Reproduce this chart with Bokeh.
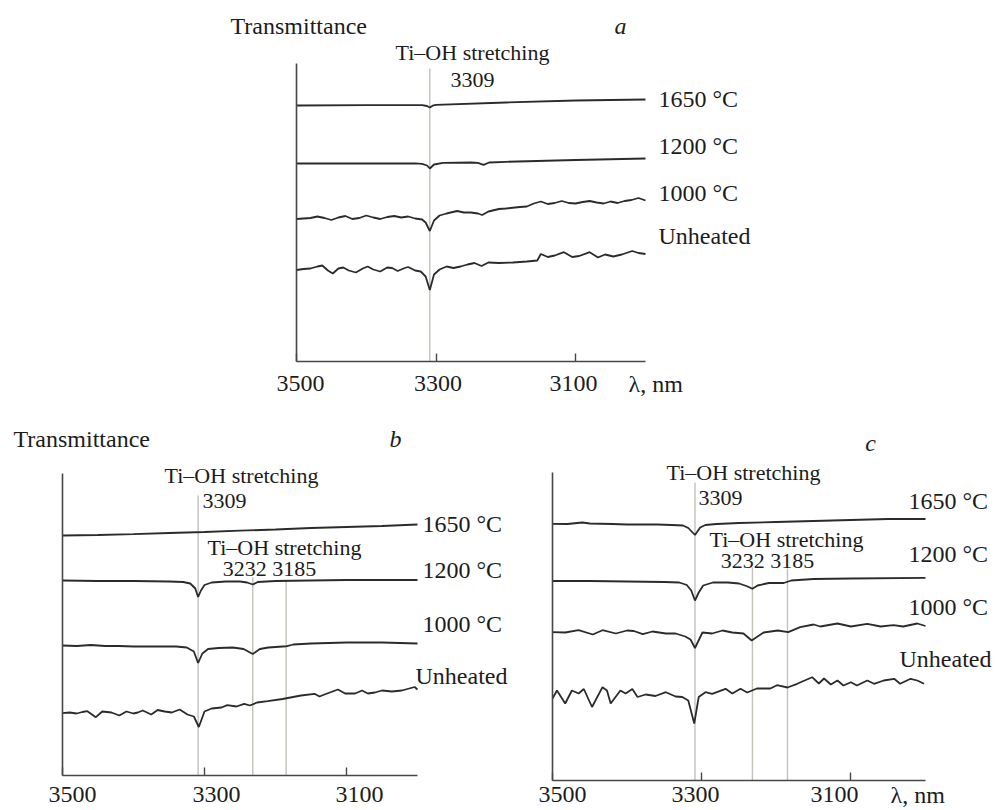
from bokeh.plotting import figure
from bokeh.layouts import column, row
from bokeh.models import Range1d, FixedTicker, Label, Spacer
from bokeh.embed import file_html
from bokeh.resources import INLINE

# ---------------- data (wavelength, relative transmittance, arb. units) ----------------
x_ticks = [3500, 3300, 3100]
peaks_a = [3309]
peaks_bc = [3309, 3232, 3185]
series_labels = ["1650 °C", "1200 °C", "1000 °C", "Unheated"]

# panel a
a_1650_wl = [3500, 3400, 3320, 3313, 3309, 3305, 3300, 3200, 3100, 3000]
a_1650_t = [256, 256.3, 256.3, 255.5, 254, 255.8, 256.6, 259, 261, 262]

a_1200_wl = [3500, 3400, 3330, 3320, 3313, 3309, 3303, 3290, 3250, 3240, 3232, 3224, 3200, 3100, 3000]
a_1200_t = [198, 198, 198.2, 197.7, 196, 193, 197, 198.7, 199, 198.7, 196.7, 199, 199.7, 201.5, 203]

a_1000_wl = [3500, 3490, 3480, 3470, 3460, 3450, 3440, 3430, 3420, 3410, 3400, 3390, 3380, 3370,
             3360, 3350, 3340, 3330, 3320, 3315, 3309, 3303, 3295, 3285, 3270, 3260, 3250, 3240,
             3234, 3225, 3210, 3200, 3180, 3170, 3160, 3150, 3140, 3130, 3120, 3110, 3100, 3090,
             3080, 3070, 3060, 3050, 3040, 3030, 3020, 3010, 3000]
a_1000_t = [142.5, 143, 143.5, 145, 143.5, 141.5, 144, 145.5, 142.5, 143.5, 146, 144, 142.5, 144.5,
            145.5, 144, 145, 143, 142, 139, 130.5, 141, 146, 148, 150.5, 149, 149, 148,
            146.5, 150, 152.5, 153, 154.5, 155, 158, 160, 157.5, 158.5, 160.5, 158.5, 158, 159.5,
            160.5, 159, 158, 160, 158.5, 160.5, 161.5, 163.5, 161]

a_unh_wl = [3500, 3490, 3480, 3470, 3463, 3455, 3448, 3440, 3433, 3425, 3415, 3405, 3398, 3390,
            3380, 3370, 3363, 3355, 3345, 3340, 3330, 3322, 3315, 3309, 3303, 3295, 3285, 3275,
            3265, 3255, 3245, 3235, 3225, 3210, 3190, 3170, 3155, 3150, 3140, 3130, 3117, 3105,
            3095, 3080, 3068, 3058, 3046, 3034, 3019, 3010, 3000]
a_unh_t = [91.5, 92.5, 93, 95, 96, 91, 88, 93, 94, 91, 89, 93, 95, 92,
           90, 94, 93.5, 90.5, 93.5, 94.5, 91, 90, 85, 71.5, 87, 92, 95, 93.5,
           95, 97, 98.5, 95.5, 99, 98.5, 99, 100, 101, 107.5, 104.5, 106, 109.3, 104.5,
           105.5, 109.3, 104, 107, 105, 107, 110.5, 108.5, 107.5]

# panel b
b_1650_wl = [3500, 3450, 3400, 3350, 3300, 3250, 3200, 3150, 3100, 3050, 3000]
b_1650_t = [240, 240.5, 241.3, 242.5, 243.5, 244.8, 246, 247.5, 248.5, 249.5, 251]

b_1200_wl = [3500, 3450, 3400, 3350, 3330, 3320, 3313, 3309, 3305, 3300, 3290, 3270, 3250, 3240,
             3232, 3225, 3200, 3150, 3100, 3000]
b_1200_t = [195, 194.5, 194.5, 194, 193.5, 192, 187, 178.5, 185, 190.5, 193, 194, 194, 193,
            191, 193.5, 194.5, 195, 195.5, 195.5]

b_1000_wl = [3500, 3480, 3460, 3440, 3420, 3400, 3380, 3360, 3340, 3325, 3315, 3309, 3303, 3295,
             3280, 3260, 3245, 3232, 3222, 3210, 3190, 3185, 3175, 3150, 3100, 3050, 3000]
b_1000_t = [130, 129.5, 130.5, 129.5, 129.5, 129, 129, 129, 129, 128, 124, 112.5, 122, 126.5,
            127.5, 128, 126.5, 121.5, 126.5, 128, 129, 129.2, 131, 132, 133, 133, 132]

b_unh_wl = [3500, 3490, 3480, 3472, 3465, 3453, 3444, 3431, 3420, 3410, 3400, 3394, 3387, 3375,
            3366, 3356, 3346, 3335, 3324, 3315, 3308, 3300, 3290, 3276, 3268, 3255, 3244, 3236,
            3226, 3211, 3190, 3164, 3145, 3138, 3131, 3112, 3102, 3088, 3078, 3070, 3060, 3050,
            3036, 3022, 3004, 3000]
b_unh_t = [62.3, 63, 62, 63.5, 64.3, 58.3, 64, 63, 60, 64, 62, 63, 65, 61,
           65.5, 64, 63, 66, 61, 59, 48.5, 64, 67, 68, 70.3, 69, 71.7, 70,
           73, 74.3, 76.5, 80, 81.7, 79, 81, 86, 82, 82, 85, 82, 83, 85,
           84, 85, 88.5, 86]

# panel c
c_1650_wl = [3500, 3480, 3460, 3450, 3420, 3400, 3360, 3340, 3325, 3318, 3309, 3302, 3295, 3280,
             3250, 3200, 3150, 3100, 3050, 3000]
c_1650_t = [256.7, 256.5, 258, 257, 256.5, 256, 256, 255.5, 255, 252.5, 245.5, 253, 255.5, 256.5,
            257.5, 258.5, 259.5, 260.5, 261.5, 261.5]

c_1200_wl = [3500, 3450, 3400, 3350, 3330, 3320, 3314, 3309, 3304, 3298, 3285, 3265, 3250, 3240,
             3232, 3225, 3210, 3190, 3180, 3150, 3100, 3000]
c_1200_t = [199.5, 199.5, 199, 198.5, 198, 195.5, 190, 180, 188, 195, 198, 198, 197, 194.5,
            191.7, 195, 197.5, 197.5, 200, 201.5, 202, 202.7]

c_1000_wl = [3500, 3483, 3465, 3446, 3433, 3415, 3400, 3391, 3379, 3366, 3348, 3335, 3322, 3315,
             3309, 3299, 3286, 3272, 3259, 3244, 3233, 3217, 3198, 3184, 3168, 3150, 3141, 3118,
             3100, 3078, 3060, 3043, 3030, 3011, 3000]
c_1000_t = [148.3, 148, 150.3, 146, 150.3, 147, 150, 149.5, 146.3, 149, 147, 147, 144, 141,
            132.5, 148, 147, 150, 148, 147, 140, 148, 150, 148.3, 153.3, 156, 154, 157,
            154, 156.7, 154, 155.3, 154, 157, 154.5]

c_unh_wl = [3500, 3494, 3483, 3474, 3465, 3458, 3447, 3433, 3427, 3422, 3409, 3402, 3393, 3386,
            3375, 3362, 3348, 3335, 3326, 3318, 3310, 3304, 3295, 3286, 3268, 3259, 3248, 3239,
            3226, 3208, 3199, 3185, 3172, 3152, 3143, 3136, 3127, 3118, 3110, 3100, 3092, 3078,
            3069, 3056, 3042, 3034, 3020, 3011, 3002]
c_unh_t = [82, 90, 77, 90, 87, 91.5, 73.5, 93.3, 90, 77, 90, 87, 91.5, 83.5,
           86, 84.5, 88.3, 84, 83.5, 80, 57, 83.5, 88.3, 86.7, 91.7, 87, 91.7, 88,
           92, 92, 95.3, 93, 96.7, 103.3, 97, 102, 96, 100, 95, 98.3, 95, 100,
           96.7, 100, 101.7, 96.7, 101.7, 100, 96.7]

# ---------------- style ----------------
FONT = "Liberation Serif"
CURVE = "#2b2b2b"
AXIS = "#474747"
MARK = "#c2c2ba"
TEXT = "#1c1c1c"


def make_panel(fig_left, fig_top, w, h, axis_x, s, base, y_top):
    """Frame fills the whole figure; axes are pinned at wavelength 3500 and transmittance 0."""
    xr = Range1d(3500 + (axis_x - fig_left) / s, 3500 - (fig_left + w - axis_x) / s)
    yr = Range1d(-(fig_top + h - base), base - fig_top)
    p = figure(width=w, height=h, x_range=xr, y_range=yr,
               output_backend="svg", toolbar_location=None,
               min_border_left=0, min_border_top=0, min_border_right=0, min_border_bottom=0)
    p.xgrid.visible = False
    p.ygrid.visible = False
    p.outline_line_color = None
    p.background_fill_color = "white"
    p.border_fill_color = "white"
    xa = p.xaxis[0]
    xa.fixed_location = 0
    xa.bounds = (3000, 3500)
    xa.ticker = FixedTicker(ticks=x_ticks, minor_ticks=[])
    xa.major_label_overrides = {t: "" for t in x_ticks}
    xa.major_tick_in = 8
    xa.major_tick_out = 0
    xa.minor_tick_in = 0
    xa.minor_tick_out = 0
    xa.axis_line_color = AXIS
    xa.axis_line_width = 1.6
    xa.major_tick_line_color = AXIS
    xa.major_tick_line_width = 1.4
    ya = p.yaxis[0]
    ya.fixed_location = 3500
    ya.bounds = (0, y_top)
    ya.ticker = FixedTicker(ticks=[], minor_ticks=[])
    ya.major_tick_in = 0
    ya.major_tick_out = 0
    ya.minor_tick_in = 0
    ya.minor_tick_out = 0
    ya.major_label_text_font_size = "0px"
    ya.axis_line_color = AXIS
    ya.axis_line_width = 1.6
    return p


def labeller(p, axis_x, s, base):
    def add(px, py, text, size=24, align="left", style="normal"):
        p.add_layout(Label(x=3500 - (px - axis_x) / s, y=base - py, x_units="data", y_units="data",
                           text=text, text_font=FONT, text_font_size=f"{size}px",
                           text_align=align, text_baseline="middle", text_color=TEXT,
                           text_font_style=style))
    return add


def curves(p, data):
    for wl, t in data:
        p.line(wl, t, line_color=CURVE, line_width=1.8)


def markers(p, peaks, tops):
    p.segment(x0=peaks, y0=[0] * len(peaks), x1=peaks, y1=tops, line_color=MARK, line_width=1.4)


# ---------------- panel a ----------------
A_S = 349 / 500
pa = make_panel(200, 0, 570, 415, 296, A_S, 361, 298)
markers(pa, peaks_a, [293])
curves(pa, [(a_1650_wl, a_1650_t), (a_1200_wl, a_1200_t), (a_1000_wl, a_1000_t), (a_unh_wl, a_unh_t)])
la = labeller(pa, 296, A_S, 361)
la(230, 25, "Transmittance")
la(620, 25, "a", align="center", style="italic")
la(472, 52, "Ti–OH stretching", size=22, align="center")
la(472, 79, "3309", size=22, align="center")
for txt, yy in zip(series_labels, [98, 145, 192, 235]):
    la(658, yy, txt)
for tk, cx in zip(x_ticks, [300, 437.5, 573]):
    la(cx, 383, str(tk), align="center")
la(628, 383, "λ, nm")

# ---------------- panel b ----------------
B_S = 355 / 500
pb = make_panel(0, 415, 520, 393, 62, B_S, 775, 302)
markers(pb, peaks_bc, [280, 198, 195])
curves(pb, [(b_1650_wl, b_1650_t), (b_1200_wl, b_1200_t), (b_1000_wl, b_1000_t), (b_unh_wl, b_unh_t)])
lb = labeller(pb, 62, B_S, 775)
lb(13, 438, "Transmittance")
lb(395, 438, "b", align="center", style="italic")
lb(241, 475, "Ti–OH stretching", size=22, align="center")
lb(224, 500, "3309", size=22, align="center")
lb(284, 547, "Ti–OH stretching", size=22, align="center")
lb(269, 568, "3232 3185", size=22, align="center")
for txt, xx, yy in zip(series_labels, [422, 422, 422, 415], [523, 569, 623, 675]):
    lb(xx, yy, txt)
for tk, cx in zip(x_ticks, [72, 216, 359]):
    lb(cx, 794, str(tk), align="center")

# ---------------- panel c ----------------
C_S = 373 / 500
pc = make_panel(520, 415, 477, 393, 552, C_S, 780, 308)
markers(pc, peaks_bc, [298, 213, 212])
curves(pc, [(c_1650_wl, c_1650_t), (c_1200_wl, c_1200_t), (c_1000_wl, c_1000_t), (c_unh_wl, c_unh_t)])
lc = labeller(pc, 552, C_S, 780)
lc(870, 442, "c", align="center", style="italic")
lc(743, 472, "Ti–OH stretching", size=22, align="center")
lc(720, 497, "3309", size=22, align="center")
lc(786, 539, "Ti–OH stretching", size=22, align="center")
lc(767, 560, "3232 3185", size=22, align="center")
for txt, xx, yy in zip(series_labels, [908, 908, 908, 899], [500, 553, 606, 658]):
    lc(xx, yy, txt)
for tk, cx in zip(x_ticks, [562, 695, 834]):
    lc(cx, 794, str(tk), align="center")
lc(890, 794, "λ, nm")

layout = column(row(Spacer(width=200, height=415), pa), row(pb, pc))

with open("out.html", "w") as f:
    f.write(file_html(layout, INLINE))
